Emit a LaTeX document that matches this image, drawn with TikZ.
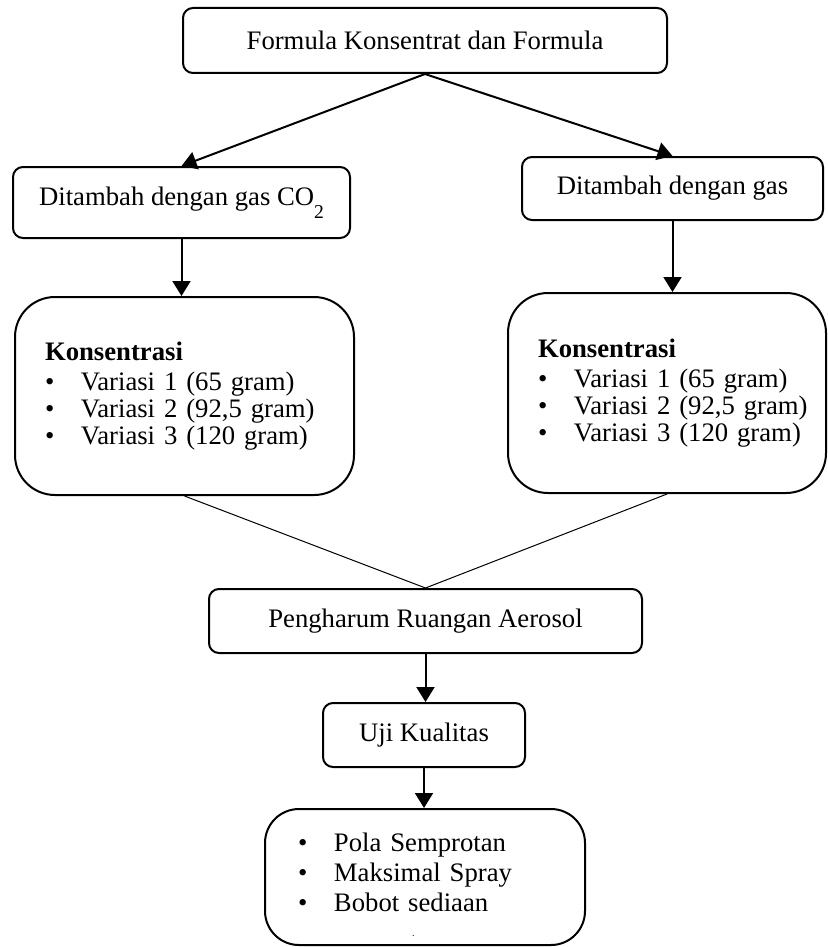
\documentclass[tikz,border=0pt]{standalone}
\usepackage{fontspec}
\setmainfont{Liberation Serif}
\usetikzlibrary{arrows.meta}

\newcommand{\butir}[1]{\makebox[18pt][l]{\textbullet}\mbox{#1}}

\tikzstyle{flow box}=[draw,line width=1pt,rounded corners=5pt,inner sep=0pt]
\tikzstyle{kons box}=[flow box,rounded corners=20pt,align=left,inner xsep=15pt,inner ysep=0pt]
\tikzstyle{edge}=[draw,line width=1pt,-{Triangle[length=7.5pt,width=9pt]}]
\tikzstyle{thin edge}=[draw,line width=0.5pt,-]

\begin{document}
\begin{tikzpicture}[x=0.5pt,y=-0.5pt,font=\fontsize{13.35}{13.5}\selectfont]
    \useasboundingbox (0,0) rectangle (828,947);
    \foreach \pos/\name/\w/\h/\teks in {{(425,40.5)/top/242pt/32.5pt/Formula Konsentrat dan Formula},
                            {(181.5,202.5)/leftgas/168.5pt/35.5pt/Ditambah dengan gas CO\raisebox{-6.5pt}{\fontsize{9.8}{10}\selectfont 2}},
                            {(672.5,188.5)/rightgas/150.5pt/31.5pt/Ditambah dengan gas},
                            {(425.5,621)/pengharum/216.5pt/32pt/Pengharum Ruangan Aerosol},
                            {(424,735)/uji/101pt/32pt/Uji Kualitas}}
        \node[flow box,minimum width=\w,minimum height=\h] (\name) at \pos {\teks};
    \node[kons box,minimum width=169.5pt,minimum height=99pt,text width=139.5pt] (leftkons) at (184.5,396)
        {\textbf{Konsentrasi}\\[1.5pt] \butir{Variasi 1 (65 gram)}\\ \butir{Variasi 2 (92,5 gram)}\\ \butir{Variasi 3 (120 gram)}};
    \node[kons box,minimum width=159pt,minimum height=100pt,text width=129pt] (rightkons) at (667,393)
        {\textbf{Konsentrasi}\\[1.5pt] \butir{Variasi 1 (65 gram)}\\ \butir{Variasi 2 (92,5 gram)}\\ \butir{Variasi 3 (120 gram)}};
    \node[kons box,rounded corners=17pt,inner xsep=16.5pt,minimum width=160pt,minimum height=68pt,text width=127pt,
          font=\fontsize{13.35}{15}\selectfont] (hasil) at (425,877)
        {\rule{0pt}{17pt}\butir{Pola Semprotan}\\ \butir{Maksimal Spray}\\ \butir{Bobot sediaan}\\[-2.5pt] \hspace{57pt}{\tiny .}};
%   \path[thin edge] (leftgas) -- (rightgas);
    \path[edge] (top.south) -- (leftgas.north);
    \path[edge] (top.south) -- (rightgas.north);
    \foreach \source/\dest in {leftgas/leftkons, rightgas/rightkons, pengharum/uji, uji/hasil}
        \path[edge] (\source.south) -- (\source.south |- \dest.north);
    \foreach \source in {leftkons, rightkons}
        \path[thin edge] (\source.south) -- (pengharum.north);
\end{tikzpicture}
\end{document}
